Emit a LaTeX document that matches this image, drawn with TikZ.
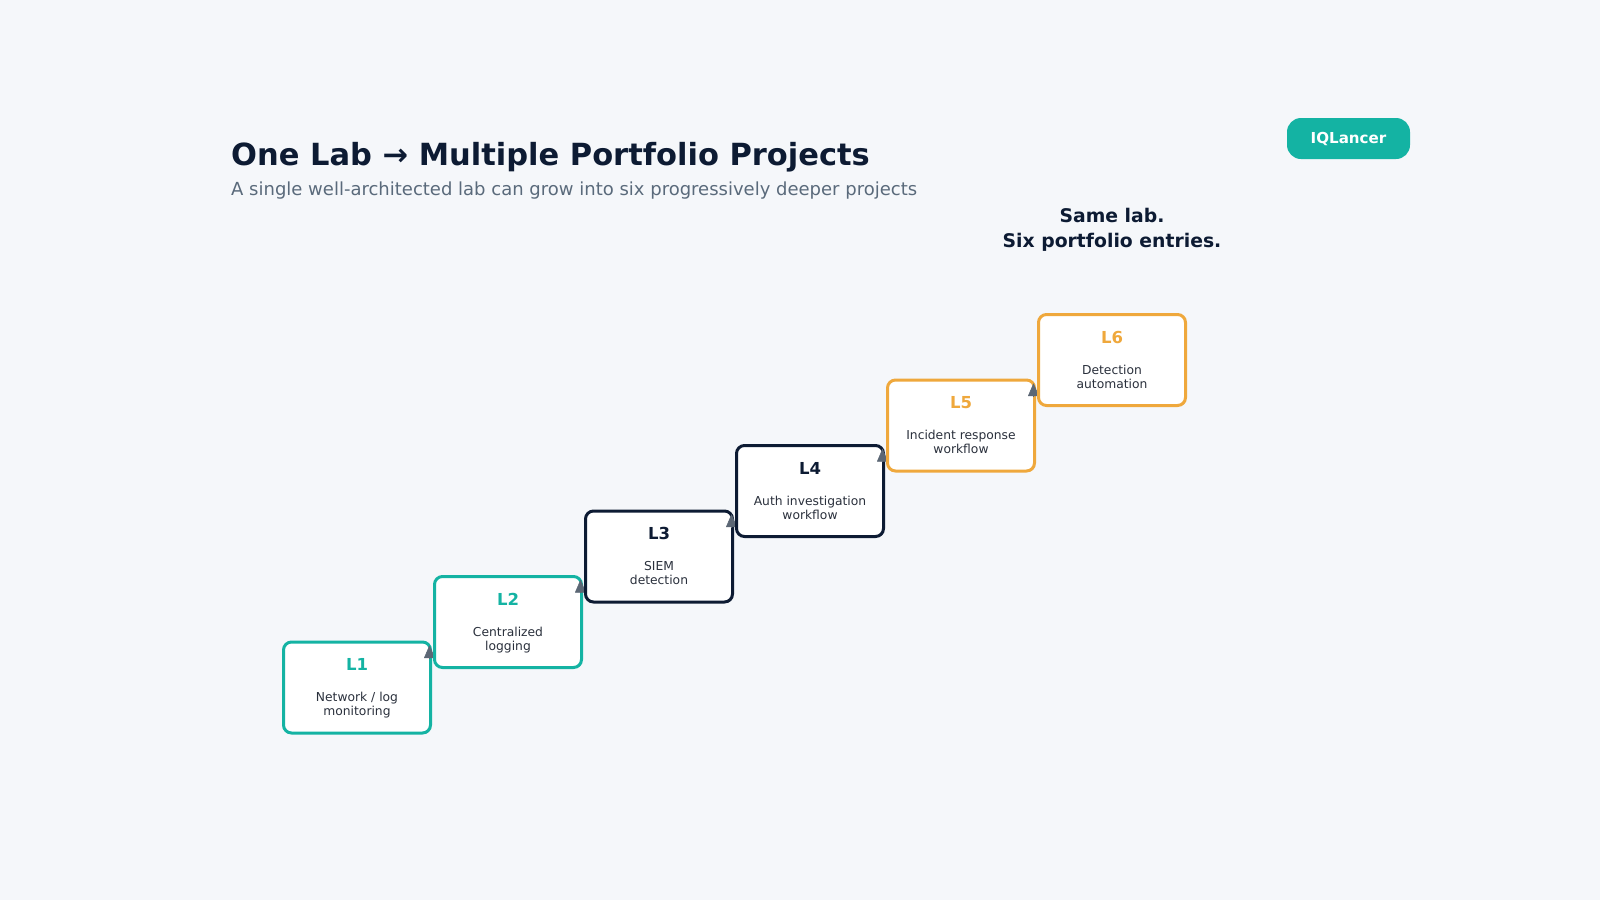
\documentclass[tikz,border=0pt]{standalone}
\usepackage{fontspec}
\setmainfont{DejaVu Sans}
\usetikzlibrary{arrows.meta}
\definecolor{bgc}{HTML}{F5F7FA}
\definecolor{tealc}{HTML}{14B3A3}
\definecolor{navyc}{HTML}{0D1B33}
\definecolor{orangec}{HTML}{EFA83C}
\definecolor{grayc}{HTML}{5C6775}
\definecolor{subc}{HTML}{5A6A7B}
\definecolor{descc}{HTML}{2A303C}
\tikzset{
  stepbox/.style={draw=#1, line width=3pt, rounded corners=8pt, fill=white,
    minimum width=147pt, minimum height=91pt, inner sep=0pt},
  lvl/.style={font=\bfseries\fontsize{16.5}{20}\selectfont, text=#1, anchor=base, inner sep=0pt},
  desc/.style={font=\fontsize{12.3}{14}\selectfont, text=descc, align=center, anchor=base, inner sep=0pt},
  arr/.style={draw=grayc, fill=grayc, line width=0.5pt, -{Triangle[length=13pt,width=11pt,round]}},
}
\begin{document}
\begin{tikzpicture}[x=1pt,y=-1pt]
\fill[bgc] (0,0) rectangle (1600,900);
\useasboundingbox (0,0) rectangle (1600,900);

% title
\node[anchor=base west, inner sep=0pt, text=navyc, font=\bfseries\fontsize{30.5}{36}\selectfont] (title) at (231,165) {One Lab → Multiple Portfolio Projects};
\node[anchor=base west, inner sep=0pt, text=subc, font=\fontsize{18}{21}\selectfont] (subtitle) at (231,195) {A single well-architected lab can grow into six progressively deeper projects};

% badge
\node[fill=tealc, rounded corners=14pt, minimum width=123pt, minimum height=41pt, inner sep=0pt] (badge) at (1348.5,138.5) {};
\node[anchor=base, inner sep=0pt, text=white, font=\bfseries\fontsize{15.1}{18}\selectfont] (badgetxt) at (1348.5,143) {IQLancer};

% side note
\node[anchor=base, inner sep=0pt, text=navyc, font=\bfseries\fontsize{18.8}{22}\selectfont] (note1) at (1112,222) {Same lab.};
\node[anchor=base, inner sep=0pt, text=navyc, font=\bfseries\fontsize{18.8}{22}\selectfont] (note2) at (1112,247) {Six portfolio entries.};

% boxes, each followed by the arrowhead leading to the next one
\foreach \i/\c/\a/\b in {1/tealc/{Network / log}/monitoring, 2/tealc/Centralized/logging, 3/navyc/SIEM/detection, 4/navyc/Auth investigation/workflow, 5/orangec/Incident response/workflow, 6/orangec/Detection/automation}{
  \pgfmathsetmacro{\cx}{357+151*(\i-1)}
  \pgfmathsetmacro{\cy}{687.5-65.5*(\i-1)}
  \node[stepbox=\c] (L\i) at (\cx,\cy) {};
  \node[lvl=\c] (L\i t) at ([yshift=-30pt]L\i.north) {L\i};
  \node[desc] (L\i a) at ([yshift=-61pt]L\i.north) {\a};
  \node[desc] (L\i b) at ([yshift=-75pt]L\i.north) {\b};
  \ifnum\i<6
    \coordinate (T\i) at ([xshift=-2.5pt,yshift=-5pt]L\i.north east);
    \coordinate (S\i) at ([yshift=-13pt]T\i);
    \draw[arr] (S\i) -- (T\i);
  \fi
}
\end{tikzpicture}
\end{document}
